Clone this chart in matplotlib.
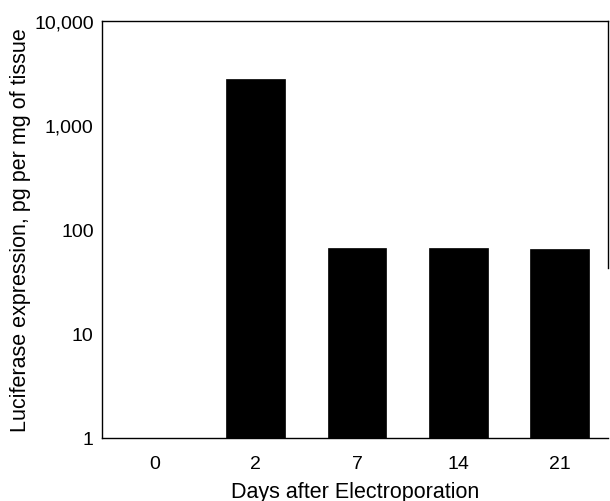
import matplotlib
matplotlib.use("Agg")
import matplotlib.pyplot as plt
import numpy as np

days = ["0", "2", "7", "14", "21"]
expression = [1, 2800, 66, 67, 65]
ytick_vals = [1, 10, 100, 1000, 10000]
ytick_labels = ["1", "10", "100", "1,000", "10,000"]

plt.rcParams['font.family'] = ['Liberation Sans', 'DejaVu Sans']

fig = plt.figure(figsize=(6.10, 5.02), dpi=100)
ax = fig.add_axes([102/610, 1-439/502, 506/610, 417/502])

x = np.arange(len(days))
ax.bar(x, expression, width=0.58, color='black', edgecolor='black', linewidth=0.5)
ax.set_yscale('log')
ax.set_ylim(1, 10000)
ax.set_xlim(-0.515, 4.475)

ax.set_yticks(ytick_vals)
ax.set_yticklabels(ytick_labels)
ax.yaxis.set_minor_locator(matplotlib.ticker.NullLocator())
ax.set_xticks(x)
ax.set_xticklabels(days)
ax.tick_params(axis='both', length=0, labelsize=14)
ax.tick_params(axis='y', pad=6)
ax.tick_params(axis='x', pad=12)

for s in ax.spines.values():
    s.set_linewidth(1.0)
    s.set_color('black')
ax.spines['right'].set_bounds(43, 10000)

ax.set_xlabel("Days after Electroporation", fontsize=15.5, labelpad=6.5)
ax.set_ylabel("Luciferase expression, pg per mg of tissue", fontsize=15.5, labelpad=2)

fig.savefig("out.png", dpi=100)
